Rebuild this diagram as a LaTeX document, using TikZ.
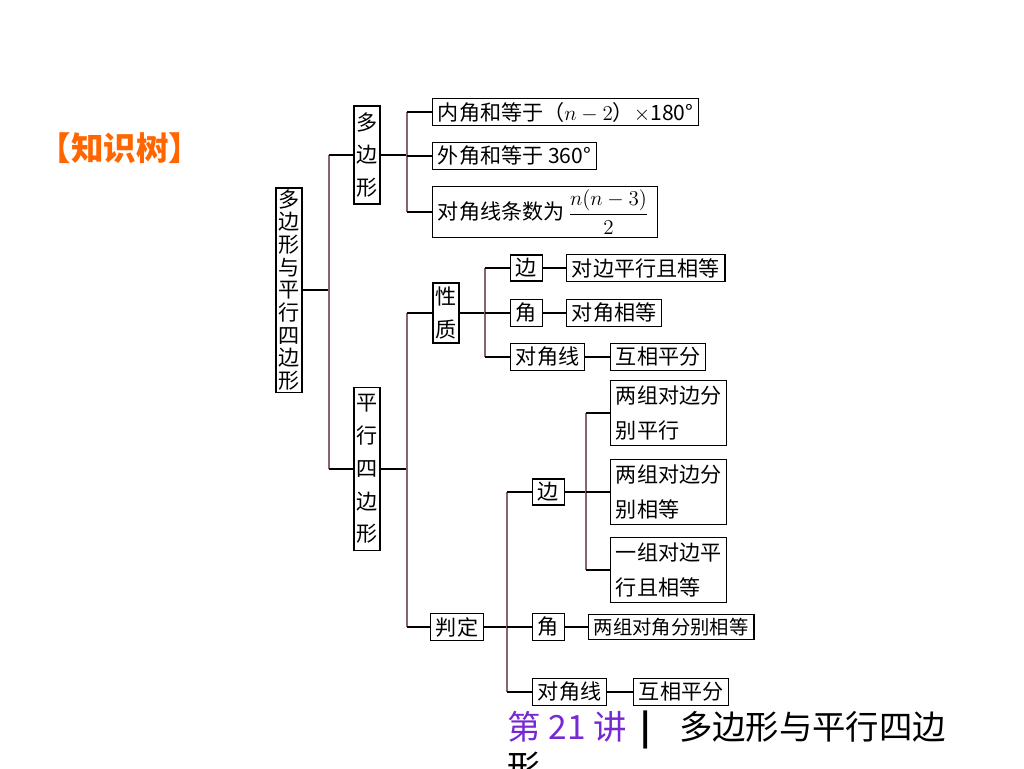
\documentclass[tikz,border=0pt]{standalone}
\usepackage{amsmath}
\usepackage{fontspec}
\setmainfont{Noto Sans CJK SC}
\definecolor{busline}{RGB}{135,100,110}
\definecolor{titleorange}{RGB}{255,102,0}
\definecolor{lecpurple}{RGB}{120,40,210}

\begin{document}
\begin{tikzpicture}[x=0.02cm, y=-0.02cm, line width=0.8pt,
  box/.style={draw, inner xsep=3pt, inner ysep=2pt, font=\fontsize{12}{14}\selectfont},
  vbox/.style={box, align=center, text width=12pt, inner xsep=1.5pt},
  wbox/.style={box, align=left, font=\fontsize{12}{20}\selectfont, inner ysep=3pt},
  bus/.style={draw=busline, line width=0.7pt}]
  \useasboundingbox (0,0) rectangle (1024,768);

  % columns where the branches split
  \coordinate (b1) at (329,0);
  \coordinate (bp) at (407,0);
  \coordinate (bq) at (407,0);
  \coordinate (bx) at (485,0);
  \coordinate (bd) at (507,0);
  \coordinate (bb) at (586,0);

  \node[font=\fontsize{18.5}{20}\selectfont\bfseries, text=titleorange] (title) at (120,148) {【知识树】};

  \node[vbox, font=\fontsize{12}{12.9}\selectfont, inner ysep=1pt] (root) at (289,290) {多\\边\\形\\与\\平\\行\\四\\边\\形};
  \node[vbox, font=\fontsize{12}{18.7}\selectfont, inner ysep=3.7pt] (poly) at (367,155) {多\\边\\形};
  \node[vbox, font=\fontsize{12}{18.7}\selectfont, inner ysep=3.7pt] (para) at (367,469) {平\\行\\四\\边\\形};

  % polygon
  \node[box, anchor=west] (p1) at (432,112) {内角和等于（$n-2$）$\times$180°};
  \node[box, anchor=west] (p2) at (432,156) {外角和等于 360°};
  \node[box, anchor=west] (p3) at (432,212) {对角线条数为\,$\dfrac{n(n-3)}{2}$\,};

  % properties
  \node[vbox, font=\fontsize{12}{19}\selectfont] (xz) at (446,313) {性\\质};
  \node[box, anchor=west] (xb) at (510,268) {边};
  \node[box, anchor=west] (xbr) at (566,268) {对边平行且相等};
  \node[box, anchor=west] (xj) at (510,313) {角};
  \node[box, anchor=west] (xjr) at (566,313) {对角相等};
  \node[box, anchor=west] (xd) at (510,357) {对角线};
  \node[box, anchor=west] (xdr) at (610,357) {互相平分};

  % tests
  \node[box] (pd) at (457,627) {判定};
  \node[box, anchor=west] (pb) at (532,492) {边};
  \node[wbox, anchor=west] (pb1) at (610,413) {两组对边分\\别平行};
  \node[wbox, anchor=west] (pb2) at (610,492) {两组对边分\\别相等};
  \node[wbox, anchor=west] (pb3) at (610,570) {一组对边平\\行且相等};
  \node[box, anchor=west] (pj) at (532,627) {角};
  \node[box, anchor=west, font=\fontsize{11}{13}\selectfont] (pjr) at (588,627) {两组对角分别相等};
  \node[box, anchor=west] (pdg) at (532,692) {对角线};
  \node[box, anchor=west] (pdr) at (633,692) {互相平分};

  % tree lines
  \draw (root.east) -- (root.east -| b1);
  \draw[bus] (b1 |- poly.west) -- (b1 |- para.west);
  \foreach \c in {poly,para} \draw (b1 |- \c.west) -- (\c.west);

  \draw (poly.east) -- (poly.east -| bp);
  \draw[bus] (bp |- p1.west) -- (bp |- p3.west);
  \foreach \c in {p1,p2,p3} \draw (bp |- \c.west) -- (\c.west);

  \draw (para.east) -- (para.east -| bq);
  \draw[bus] (bq |- xz.west) -- (bq |- pd.west);
  \foreach \c in {xz,pd} \draw (bq |- \c.west) -- (\c.west);

  \draw (xz.east) -- (xz.east -| bx);
  \draw[bus] (bx |- xb.west) -- (bx |- xd.west);
  \foreach \c in {xb,xj,xd} \draw (bx |- \c.west) -- (\c.west);
  \draw (xb.east) -- (xbr.west);
  \draw (xj.east) -- (xjr.west);
  \draw (xd.east) -- (xdr.west);

  \draw (pd.east) -- (pd.east -| bd);
  \draw[bus] (bd |- pb.west) -- (bd |- pdg.west);
  \foreach \c in {pb,pj,pdg} \draw (bd |- \c.west) -- (\c.west);
  \draw (pb.east) -- (pb.east -| bb);
  \draw[bus] (bb |- pb1.west) -- (bb |- pb3.west);
  \foreach \c in {pb1,pb2,pb3} \draw (bb |- \c.west) -- (\c.west);
  \draw (pj.east) -- (pjr.west);
  \draw (pdg.east) -- (pdr.west);

  \node[anchor=north west, align=left, inner sep=0pt, font=\fontsize{19}{23}\selectfont] (lec) at (507,710)
    {\textcolor{lecpurple}{第 21 讲}\hspace{8pt}\textbf{|}\hspace{16pt}多边形与平行四边\\形};
\end{tikzpicture}
\end{document}
